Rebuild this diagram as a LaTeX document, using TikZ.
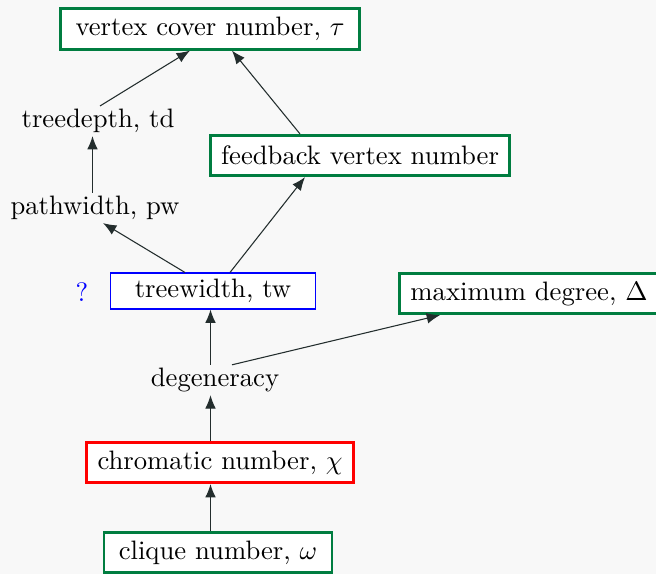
\documentclass[tikz,border=0pt]{standalone}
\usetikzlibrary{arrows.meta}
\definecolor{bg}{RGB}{248,248,248}
\definecolor{gbox}{RGB}{0,125,64}
\definecolor{arr}{RGB}{35,45,45}
\def\px{0.375pt}
\begin{document}
\begin{tikzpicture}[x=\px,y=-\px,
  box/.style={draw,fill=white,line width=1pt,inner xsep=5.6pt,inner ysep=0pt,minimum height=15.2pt},
  gb/.style={box,draw=gbox},
  plain/.style={inner sep=1pt},
  link/.style={draw=arr,line width=0.4pt,-{Latex[length=5pt,width=4pt]}}]
\fill[bg] (0,0) rectangle (656,574);
\useasboundingbox (0,0) rectangle (656,574);
\node[gb] (vc) at (210,29) {vertex cover number, $\tau$};
\node[plain] (td) at (98,121) {treedepth, td};
\node[gb,inner xsep=4pt] (fvn) at (360,155.5) {feedback vertex number};
\node[plain] (pw) at (95,208) {pathwidth, pw};
\node[plain,text=blue] (q) at (82,292) {?};
\node[box,draw=blue,line width=0.4pt,minimum height=13.5pt,inner xsep=9pt] (tw) at (213,291) {treewidth, tw};
\node[gb,inner xsep=4.2pt] (md) at (529,293.5) {maximum degree, $\Delta$};
\node[plain] (dg) at (215,380) {degeneracy};
\node[box,draw=red,inner xsep=4.2pt] (chi) at (220,462.5) {chromatic number, $\chi$};
\node[gb] (om) at (218,552.5) {clique number, $\omega$};
\draw[link] ([xshift=2*\px]td.north) -- ([xshift=-20*\px]vc.south);
\draw[link] ([xshift=-60*\px]fvn.north) -- ([xshift=22*\px]vc.south);
\draw[link] ([xshift=-2.5*\px]pw.north) -- ([xshift=-5.5*\px]td.south);
\draw[link] ([xshift=-28*\px]tw.north) -- ([xshift=8*\px]pw.south);
\draw[link] ([xshift=17*\px]tw.north) -- ([xshift=-55*\px]fvn.south);
\draw[link] ([xshift=-4.5*\px]dg.north) -- ([xshift=-2.5*\px]tw.south);
\draw[link] ([xshift=17*\px]dg.north) -- ([xshift=-89*\px]md.south);
\draw[link] ([xshift=-9.5*\px]chi.north) -- ([xshift=-4.5*\px]dg.south);
\draw[link] ([xshift=-7.5*\px]om.north) -- ([xshift=-9.5*\px]chi.south);
\end{tikzpicture}
\end{document}
